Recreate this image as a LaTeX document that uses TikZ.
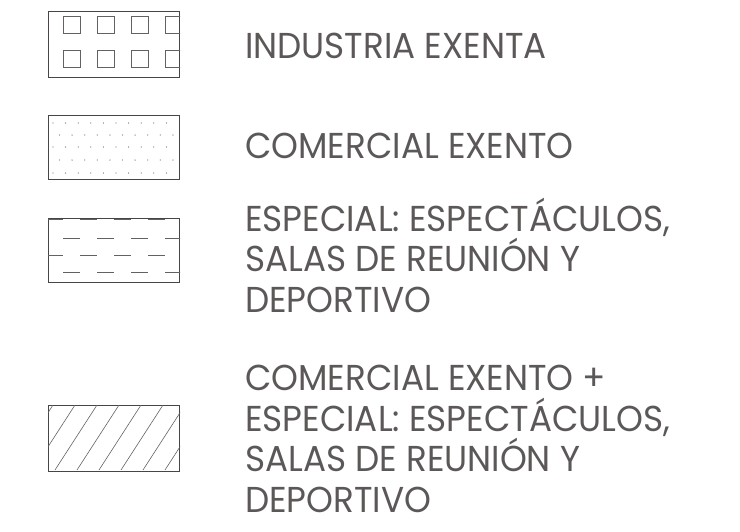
\documentclass[tikz,border=0pt]{standalone}
\usepackage{fontspec}
\setmainfont{Poppins}[FakeStretch=0.95]
\definecolor{ink}{HTML}{4A4545}
\begin{document}
\begin{tikzpicture}[x=1pt, y=-1pt,
	swatch/.style={draw=ink, line width=1.2pt, rectangle, inner sep=0pt,
		minimum width=131pt, minimum height=66pt, anchor=north west},
	legend/.style={anchor=base west, inner sep=0pt, align=left, text=ink!90,
		font=\fontsize{36}{40.5}\selectfont},
	hatch/.style={draw=ink!85, line width=0.6pt}]
	\useasboundingbox (0,0) rectangle (740,531);

	% swatches
	\node[swatch] (ind) at (48,11) {};
	\node[swatch, minimum height=64pt] (com) at (48,115) {};
	\node[swatch, minimum height=64pt] (esp) at (48,218) {};
	\node[swatch] (mix) at (48,405) {};

	% industria: small squares
	\begin{scope}
		\clip (ind.north west) rectangle (ind.south east);
		\foreach \x in {63,97,131,165}
			\foreach \y in {16,50}
				\draw[hatch] (\x,\y) rectangle ++(17,17);
	\end{scope}

	% comercial: staggered dots
	\foreach \y in {123,147,173}
		\foreach \x in {53,65.6,...,168}
			\fill[ink!75] (\x,\y) circle (0.65pt);
	\foreach \y in {135,160}
		\foreach \x in {59.5,72.1,...,176}
			\fill[ink!75] (\x,\y) circle (0.65pt);

	% especial: dashes
	\begin{scope}
		\clip (esp.north west) rectangle (esp.south east);
		\foreach \y in {219,255}
			\foreach \x in {46,80,114,148}
				\draw[hatch] (\x,\y) -- ++(17,0);
		\foreach \y in {238,272}
			\foreach \x in {63,97,131,165}
				\draw[hatch] (\x,\y) -- ++(17,0);
	\end{scope}

	% comercial + especial: diagonal hatching
	\begin{scope}
		\clip (mix.north west) rectangle (mix.south east);
		\foreach \x in {53,75,...,230}
			\draw[hatch] (\x,405) -- ++(-42,65);
	\end{scope}

	% labels (base = last line)
	\node[legend] (lind) at (245,58) {INDUSTRIA EXENTA};
	\node[legend] (lcom) at (245,158) {COMERCIAL EXENTO};
	\node[legend] (lesp) at (245,312)
		{ESPECIAL: ESPECTÁCULOS,\\SALAS DE REUNIÓN Y\\DEPORTIVO};
	\node[legend] (lmix) at (245,512)
		{COMERCIAL EXENTO +\\ESPECIAL: ESPECTÁCULOS,\\SALAS DE REUNIÓN Y\\DEPORTIVO};
\end{tikzpicture}
\end{document}
